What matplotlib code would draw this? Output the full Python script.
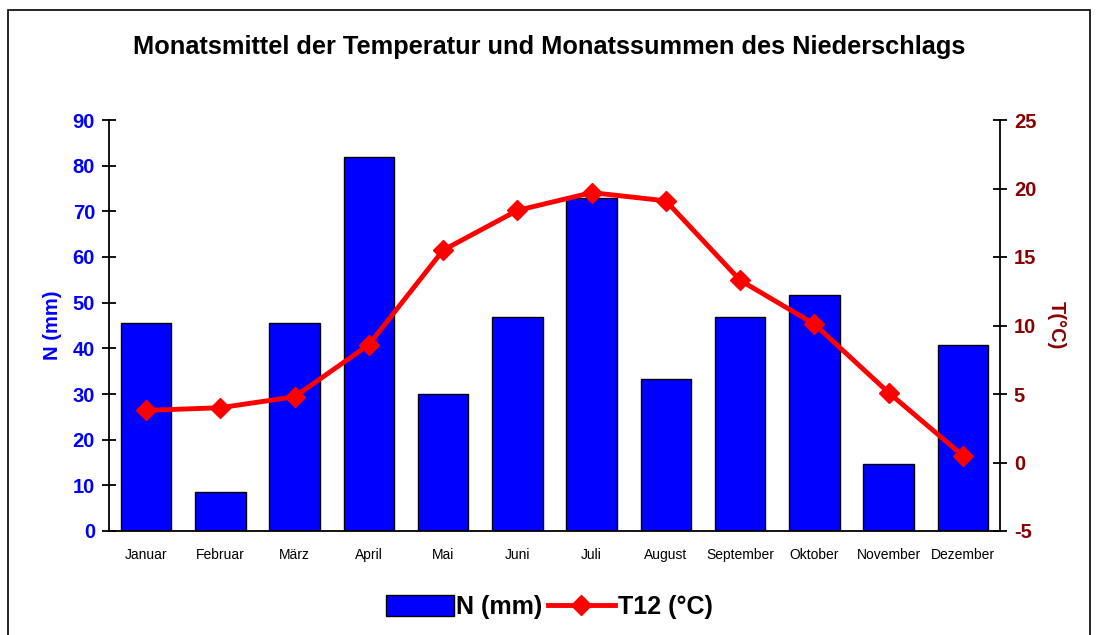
import matplotlib.pyplot as plt
import numpy as np
from matplotlib.patches import Rectangle

plt.rcParams["font.family"] = ["Liberation Sans", "DejaVu Sans"]
plt.rcParams["axes.unicode_minus"] = False

months = ["Januar", "Februar", "März", "April", "Mai", "Juni", "Juli",
          "August", "September", "Oktober", "November", "Dezember"]
precip = [45.6, 8.6, 45.6, 81.9, 29.9, 46.9, 72.9, 33.2, 46.9, 51.6, 14.6, 40.8]
temp = [3.8, 4.0, 4.8, 8.6, 15.5, 18.4, 19.7, 19.1, 13.3, 10.1, 5.1, 0.5]

BLUE = "#0000FF"
DARKRED = "#8B0000"

fig = plt.figure(figsize=(10.99, 6.35), dpi=100)
ax = fig.add_axes([109 / 1099, 1 - 531 / 635, 891 / 1099, 411 / 635])
x = np.arange(len(months))

ax.bar(x, precip, width=0.68, color=BLUE, edgecolor="black", linewidth=1,
       label="N (mm)", zorder=2)
ax.set_xlim(-0.5, len(months) - 0.5)
ax.set_ylim(0, 90)
ax.set_yticks(range(0, 91, 10))
ax.set_xticks(x)
ax.set_xticklabels(months, fontsize=10)
ax.tick_params(axis="x", length=0, pad=12)
ax.tick_params(axis="y", direction="inout", length=10, width=1.3,
               labelsize=14.5, labelcolor=BLUE, pad=5)
for t in ax.get_yticklabels():
    t.set_fontweight("bold")
ax.set_ylabel("N (mm)", color=BLUE, fontsize=14.5, fontweight="bold", labelpad=8)
for s in ["top", "right"]:
    ax.spines[s].set_visible(False)
for s in ["left", "bottom"]:
    ax.spines[s].set_linewidth(1.3)

ax2 = ax.twinx()
ax2.plot(x, temp, color="red", linewidth=3.5, marker="D", markersize=10,
         label="T12 (°C)", zorder=3)
ax2.set_ylim(-5, 25)
ax2.set_yticks(range(-5, 26, 5))
ax2.tick_params(axis="y", direction="inout", length=10, width=1.3,
                labelsize=14.5, labelcolor=DARKRED, pad=5)
for t in ax2.get_yticklabels():
    t.set_fontweight("bold")
ax2.set_ylabel("T(°C)", color=DARKRED, fontsize=14.5, fontweight="bold",
               rotation=-90, labelpad=21)
for s in ["top", "left", "bottom"]:
    ax2.spines[s].set_visible(False)
ax2.spines["right"].set_linewidth(1.3)

fig.text(0.5, 1 - 47 / 635, "Monatsmittel der Temperatur und Monatssummen des Niederschlags",
         ha="center", va="center", fontsize=18.3, fontweight="bold")

h1, l1 = ax.get_legend_handles_labels()
h2, l2 = ax2.get_legend_handles_labels()
fig.legend(h1 + h2, l1 + l2, loc="center", bbox_to_anchor=(0.5, 1 - 607 / 635),
           ncol=2, frameon=False, prop={"weight": "bold", "size": 18},
           handlelength=2.7, handleheight=0.9, handletextpad=0.1, columnspacing=0.2)

fig.patches.append(Rectangle((8 / 1099, -0.01), (1090 - 8) / 1099, 1 - 10 / 635 + 0.01,
                             transform=fig.transFigure, fill=False,
                             edgecolor="black", linewidth=1.2))

fig.savefig("out.png", dpi=100)
